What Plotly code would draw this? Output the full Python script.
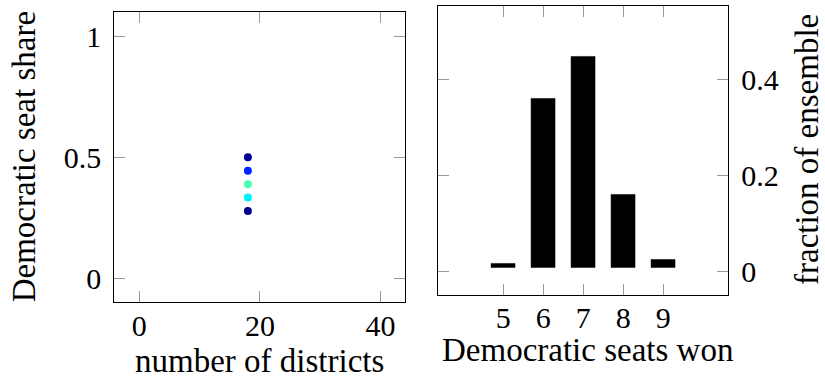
import plotly.graph_objects as go

# ---- data ----
seats = [5, 6, 7, 8, 9]                      # Democratic seats won
fractions = [0.016, 0.361, 0.448, 0.160, 0.024]  # fraction of ensemble
num_districts = 18
left_xticks = [0, 20, 40]
left_yticks = [0, 0.5, 1]
left_yticktext = ["0", "0.5", "1"]
right_yticks = [0, 0.2, 0.4]
right_yticktext = ["0", "0.2", "0.4"]

# ---- style ----
W, H = 825, 377
FONT = "Liberation Serif"
TICK_SIZE = 30
TITLE_SIZE = 33
BAR_BASE = 0.009
JET = [[0, "rgb(0,0,128)"], [0.125, "rgb(0,0,255)"], [0.375, "rgb(0,255,255)"],
       [0.625, "rgb(255,255,0)"], [0.875, "rgb(255,0,0)"], [1, "rgb(128,0,0)"]]

def px_x(v):
    return v / W

def px_y(v):
    return 1 - v / H

fig = go.Figure()

fig.add_trace(go.Scatter(
    x=[num_districts] * len(seats),
    y=[s / num_districts for s in seats],
    mode="markers",
    marker=dict(size=8, color=fractions, colorscale=JET, cmin=0, cmax=1,
                line=dict(width=0)),
    xaxis="x", yaxis="y", showlegend=False,
))

fig.add_trace(go.Bar(
    x=seats,
    y=[f - BAR_BASE for f in fractions],
    base=BAR_BASE,
    width=0.59,
    marker=dict(color="black", line=dict(color="black", width=0.5)),
    xaxis="x2", yaxis="y2", showlegend=False,
))

axis_common = dict(
    showline=True, linecolor="black", linewidth=1, mirror="ticks",
    ticks="inside", ticklen=11, tickwidth=1, tickcolor="#9a9a9a",
    showgrid=False, zeroline=False,
    tickfont=dict(family=FONT, size=TICK_SIZE, color="black"),
    fixedrange=True,
)

fig.update_layout(
    width=W, height=H,
    margin=dict(l=0, r=0, t=0, b=0),
    paper_bgcolor="white", plot_bgcolor="white",
    bargap=0,
    xaxis=dict(domain=[px_x(114.3), px_x(405)], range=[-4.15, 44.05],
               tickvals=left_xticks, anchor="y", ticklabelstandoff=-3, **axis_common),
    yaxis=dict(domain=[px_y(302.3), px_y(12.3)], range=[-0.1, 1.1],
               tickvals=left_yticks, ticktext=left_yticktext, anchor="x",
               ticklabelstandoff=6, **axis_common),
    xaxis2=dict(domain=[px_x(438.3), px_x(728.3)], range=[3.375, 10.625],
                tickvals=seats, anchor="y2", ticklabelstandoff=-4, **axis_common),
    yaxis2=dict(domain=[px_y(295), px_y(5.7)], range=[-0.0485, 0.554],
                tickvals=right_yticks, ticktext=right_yticktext, anchor="x2",
                side="right", ticklabelstandoff=6, **axis_common),
)

title_font = dict(family=FONT, size=TITLE_SIZE, color="black")
annots = [
    dict(text="Democratic seat share", x=px_x(24), y=px_y(157.3), textangle=-90),
    dict(text="number of districts", x=px_x(259.7), y=px_y(361), textangle=0),
    dict(text="Democratic seats won", x=px_x(587), y=px_y(350), textangle=0),
    dict(text="fraction of ensemble", x=px_x(807), y=px_y(150), textangle=-90),
]
for a in annots:
    fig.add_annotation(xref="paper", yref="paper", showarrow=False,
                       xanchor="center", yanchor="middle", font=title_font, **a)

fig.write_html("out.html")
